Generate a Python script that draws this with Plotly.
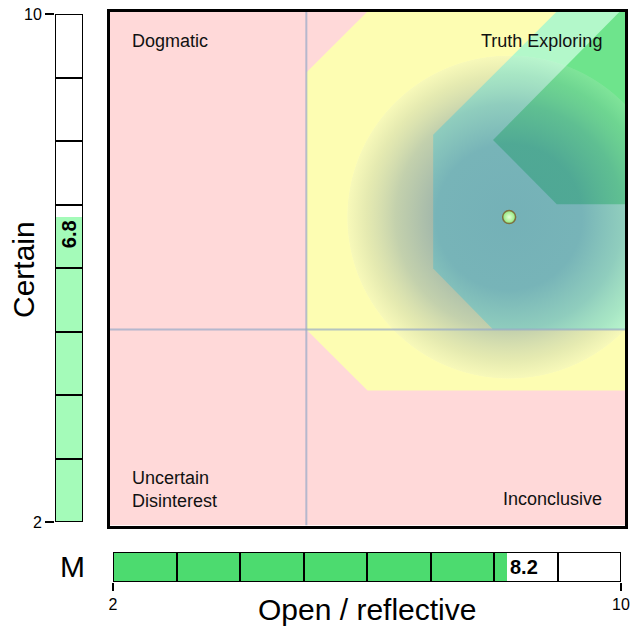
import plotly.graph_objects as go

W, H = 630, 627

# score values
open_score = 8.2
certain_score = 6.8
axis_min, axis_max = 2, 10
threshold = 5.05
segments = list(range(2, 10))
halo_radius = 2.52

# region polygons (x, y)
yellow_x = [5.05, 5.05, 6.0, 10, 10, 6.0]
yellow_y = [5.05, 9.05, 10, 10, 4.1, 4.1]
light_x = [7.02, 7.02, 8.94, 10, 10, 7.95]
light_y = [6.0, 8.08, 10, 10, 5.05, 5.05]
dark_x = [7.95, 9.92, 10, 10, 8.94]
dark_y = [8.0, 10, 10, 7.0, 7.0]

quadrant_labels = ["Dogmatic", "Truth Exploring", "Uncertain<br>Disinterest", "Inconclusive"]

FONT = "Arial, Liberation Sans, sans-serif"


def px_x(p):
    return p / W


def px_y(p):
    return 1 - p / H


fig = go.Figure()

# regions
for xs, ys, color in [
    (yellow_x, yellow_y, "#fdfdb2"),
    (light_x, light_y, "#b3f8ca"),
    (dark_x, dark_y, "#6ee48c"),
]:
    fig.add_trace(go.Scatter(x=xs, y=ys, fill="toself", fillcolor=color,
                             mode="lines", line=dict(width=0), hoverinfo="skip"))

# soft radial halo around the score (square box, gradient drawn as inscribed disc)
hx = [open_score - halo_radius, open_score + halo_radius, open_score + halo_radius, open_score - halo_radius]
hy = [certain_score - halo_radius, certain_score - halo_radius, certain_score + halo_radius, certain_score + halo_radius]
fig.add_trace(go.Scatter(
    x=hx, y=hy, fill="toself", mode="lines", line=dict(width=0), hoverinfo="skip",
    fillgradient=dict(type="radial", colorscale=[
        [0.0, "rgba(40,90,160,0.45)"],
        [0.45, "rgba(40,90,160,0.43)"],
        [0.7, "rgba(60,105,160,0.3)"],
        [0.88, "rgba(110,140,170,0.17)"],
        [0.995, "rgba(215,225,220,0.16)"],
        [1.0, "rgba(255,255,255,0)"],
    ]),
))

# quadrant dividers
fig.add_trace(go.Scatter(x=[threshold, threshold], y=[axis_min, axis_max], mode="lines",
                         line=dict(color="rgba(150,170,200,0.7)", width=2), hoverinfo="skip"))
fig.add_trace(go.Scatter(x=[axis_min, axis_max], y=[threshold, threshold], mode="lines",
                         line=dict(color="rgba(150,170,200,0.7)", width=2), hoverinfo="skip"))

# score point
fig.add_trace(go.Scatter(
    x=[open_score], y=[certain_score], mode="markers",
    marker=dict(size=13, color="#8ee878", line=dict(color="#7d7040", width=1.5),
                gradient=dict(type="radial", color="#e6ffd8")),
))

# left bar (Certain)
fig.add_trace(go.Bar(x=[0], y=[certain_score - axis_min], base=[axis_min], width=1,
                     marker=dict(color="#a4fbb9", line=dict(width=0)),
                     xaxis="x2", yaxis="y2"))
fig.add_trace(go.Bar(x=[0] * len(segments), y=[1] * len(segments), base=segments, width=1,
                     marker=dict(color="rgba(0,0,0,0)", line=dict(color="black", width=2)),
                     xaxis="x2", yaxis="y2"))

# bottom bar (Open / reflective)
fig.add_trace(go.Bar(y=[0], x=[open_score - axis_min], base=[axis_min], width=1, orientation="h",
                     marker=dict(color="#4cdb6f", line=dict(width=0)),
                     xaxis="x3", yaxis="y3"))
fig.add_trace(go.Bar(y=[0] * len(segments), x=[1] * len(segments), base=segments, width=1,
                     orientation="h",
                     marker=dict(color="rgba(0,0,0,0)", line=dict(color="black", width=2)),
                     xaxis="x3", yaxis="y3"))

lab = dict(size=18, color="#111", family=FONT)
annotations = [
    dict(x=px_x(130), y=px_y(41), text=quadrant_labels[0], xanchor="left"),
    dict(x=px_x(604), y=px_y(41), text=quadrant_labels[1], xanchor="right"),
    dict(x=px_x(130), y=px_y(489), text=quadrant_labels[2], xanchor="left", align="left"),
    dict(x=px_x(604), y=px_y(499), text=quadrant_labels[3], xanchor="right"),
]
for a in annotations:
    a.update(xref="paper", yref="paper", showarrow=False, yanchor="middle", font=lab)

big = dict(size=30, color="black", family=FONT)
annotations += [
    dict(x=0, y=certain_score, xref="x2", yref="y2", text=f"<b>{certain_score}</b>",
         textangle=-90, yanchor="top", xanchor="center", yshift=-1, showarrow=False,
         font=dict(size=20, color="black", family=FONT)),
    dict(x=open_score, y=0, xref="x3", yref="y3", text=f"<b>{open_score}</b>",
         xanchor="left", yanchor="middle", xshift=1, showarrow=False,
         font=dict(size=20, color="black", family=FONT)),
    dict(x=px_x(23), y=px_y(270), text="Certain", textangle=-90, font=big),
    dict(x=px_x(72), y=px_y(566), text="M", font=big),
    dict(x=px_x(367), y=px_y(609), text="Open / reflective", font=big),
]
for a in annotations[-3:]:
    a.update(xref="paper", yref="paper", showarrow=False, xanchor="center", yanchor="middle")

fig.update_layout(
    width=W, height=H,
    margin=dict(l=0, r=0, t=0, b=0, autoexpand=False),
    paper_bgcolor="white",
    plot_bgcolor="white",
    showlegend=False,
    barmode="overlay",
    bargap=0,
    annotations=annotations,
    shapes=[dict(type="rect", xref="x", yref="y", x0=axis_min, x1=axis_max,
                 y0=axis_min, y1=axis_max, fillcolor="#ffd9d9", line=dict(width=0),
                 layer="below")],
    xaxis=dict(domain=[px_x(110), px_x(625)], range=[axis_min, axis_max], showgrid=False,
               zeroline=False, showticklabels=False, ticks="", showline=True, mirror=True,
               linecolor="black", linewidth=3, automargin=False),
    yaxis=dict(domain=[px_y(525.5), px_y(11.5)], range=[axis_min, axis_max], showgrid=False,
               zeroline=False, showticklabels=False, ticks="", showline=True, mirror=True,
               linecolor="black", linewidth=3, automargin=False),
    xaxis2=dict(domain=[px_x(55), px_x(83)], range=[-0.5, 0.5], visible=False, anchor="y2",
                automargin=False),
    yaxis2=dict(domain=[px_y(522), px_y(14)], range=[axis_min, axis_max], anchor="x2",
                tickvals=[axis_min, axis_max], ticks="outside", ticklen=9, tickwidth=2,
                tickcolor="black", showgrid=False, zeroline=False, showline=False,
                tickfont=dict(size=16, color="black", family=FONT), automargin=False),
    xaxis3=dict(domain=[px_x(113), px_x(621)], range=[axis_min, axis_max], anchor="y3",
                tickvals=[axis_min, axis_max], ticks="outside", ticklen=8, tickwidth=2,
                tickcolor="black", showgrid=False, zeroline=False, showline=False,
                tickfont=dict(size=16, color="black", family=FONT), automargin=False),
    yaxis3=dict(domain=[px_y(582), px_y(552)], range=[-0.5, 0.5], visible=False, anchor="x3",
                automargin=False),
)

fig.write_html("out.html", config={"displayModeBar": False},
               post_script="document.body.style.margin='0';")
